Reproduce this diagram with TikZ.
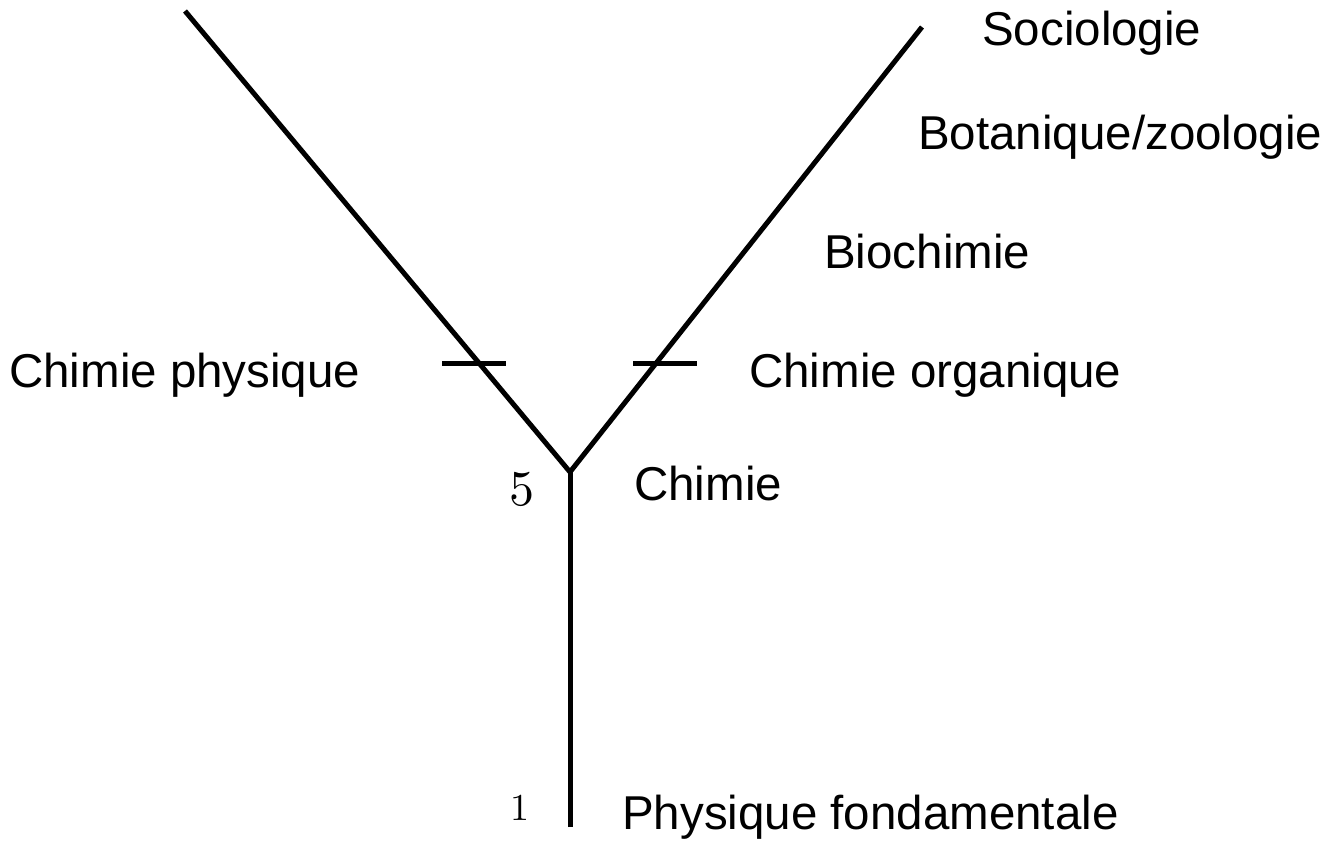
\documentclass[tikz,border=0pt]{standalone}
\usepackage{fontspec}
\setsansfont{Liberation Sans}
\newfontfamily\digitfont{lmroman10-regular}[Extension=.otf]
\usetikzlibrary{positioning}
\tikzset{
  tree-line/.style={draw=black, line width=5pt},
  tree-tick/.style={draw=black, line width=5pt},
  field-label/.style={anchor=base west, inner sep=0pt, font=\sffamily\fontsize{47.5}{50}\selectfont},
  level-label/.style={anchor=base west, inner sep=0pt}
}
\begin{document}
\begin{tikzpicture}[x=1pt, y=-1pt]
  \useasboundingbox (0,0) rectangle (1334,844);
  \coordinate (base) at (570,827);
  \coordinate (fork) at (570,472);
  \coordinate (left-top) at (185,11);
  \coordinate (right-top) at (922,27);
  \draw[tree-line] (base) -- (fork);
  \draw[tree-line] (fork) -- (left-top);
  \draw[tree-line] (fork) -- (right-top);
  \coordinate (left-tick-a) at (442,363);
  \coordinate (left-tick-b) at (506,363);
  \coordinate (right-tick-a) at (633,363);
  \coordinate (right-tick-b) at (697,363);
  \draw[tree-tick] (left-tick-a) -- (left-tick-b);
  \draw[tree-tick] (right-tick-a) -- (right-tick-b);
  \node[field-label] (socio) at (982,45) {Sociologie};
  \node[field-label] (bota) at (918,149) {Botanique/zoologie};
  \node[field-label] (bioch) at (824,268) {Biochimie};
  \node[field-label] (chorg) at (749,387) {Chimie organique};
  \node[field-label] (chphys) at (9,387) {Chimie physique};
  \node[field-label] (chimie) at (634,500) {Chimie};
  \node[field-label] (physf) at (622,829) {Physique fondamentale};
  \node[level-label, font=\digitfont\fontsize{50}{52}\selectfont] (lvl-five) at (509,505) {5};
  \node[level-label, font=\digitfont\fontsize{38}{40}\selectfont] (lvl-one) at (510,820) {1};
\end{tikzpicture}
\end{document}
